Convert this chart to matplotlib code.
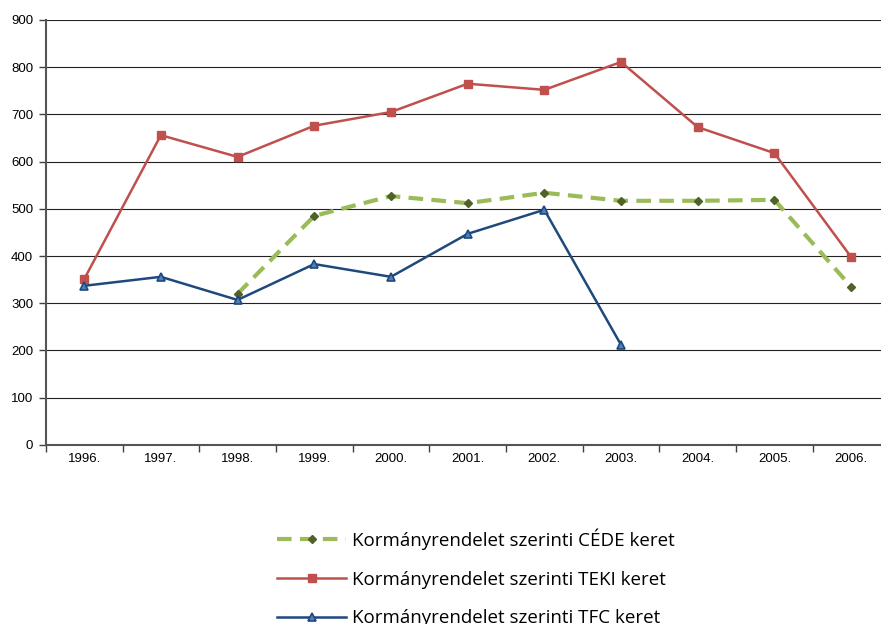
import numpy as np
import matplotlib.pyplot as plt

# years and series values
years = ['1996.', '1997.', '1998.', '1999.', '2000.', '2001.', '2002.',
         '2003.', '2004.', '2005.', '2006.']
cede = [np.nan, np.nan, 320, 485, 527, 512, 534, 517, 517, 519, 335]
teki = [351, 656, 610, 676, 705, 765, 752, 811, 673, 618, 398]
tfc = [337, 356, 307, 383, 356, 447, 498, 212, np.nan, np.nan, np.nan]
labels = ['Kormányrendelet szerinti CÉDE keret',
          'Kormányrendelet szerinti TEKI keret',
          'Kormányrendelet szerinti TFC keret']

plt.rcParams['font.family'] = ['Liberation Sans', 'DejaVu Sans']

fig = plt.figure(figsize=(8.81, 6.24), dpi=100)
ax = fig.add_axes([0.052, 0.287, 0.948, 0.681])

x = np.arange(len(years))
ax.plot(x, cede, color='#9BBB59', lw=3, dashes=(3.5, 2), marker='D', ms=4.5,
        mfc='#4F6228', mec='#4F6228', label=labels[0], zorder=3)
ax.plot(x, teki, color='#C0504D', lw=1.8, marker='s', ms=6,
        mfc='#C0504D', mec='#C0504D', label=labels[1], zorder=3)
ax.plot(x, tfc, color='#1F497D', lw=1.8, marker='^', ms=6,
        mfc='#4F81BD', mec='#1F497D', mew=1.2, label=labels[2], zorder=3)

ax.set_ylim(0, 900)
ax.set_yticks(range(0, 901, 100))
ax.set_xlim(-0.5, 10.39)
ax.set_xticks(x)
ax.set_xticklabels(years)
ax.set_xticks(np.arange(-0.5, 10.5, 1), minor=True)
ax.tick_params(axis='x', which='major', length=0, pad=6, labelsize=9.5)
ax.tick_params(axis='x', which='minor', length=5, width=1, color='#404040')
ax.tick_params(axis='y', length=5, width=1, color='#404040', labelsize=9.5, pad=4)

ax.grid(axis='y', color='#222222', lw=0.8, zorder=0)
for side in ['top', 'right']:
    ax.spines[side].set_visible(False)
ax.spines['left'].set_color('#555555')
ax.spines['left'].set_linewidth(1.5)
ax.spines['bottom'].set_color('#555555')
ax.spines['bottom'].set_linewidth(1.5)

fig.legend(loc='center', bbox_to_anchor=(0.54, 0.074), frameon=False,
           handlelength=3.7, handletextpad=0.3, labelspacing=1.1,
           prop={'family': ['Open Sans', 'DejaVu Sans'], 'size': 13.5})

fig.savefig('out.png', dpi=100)
